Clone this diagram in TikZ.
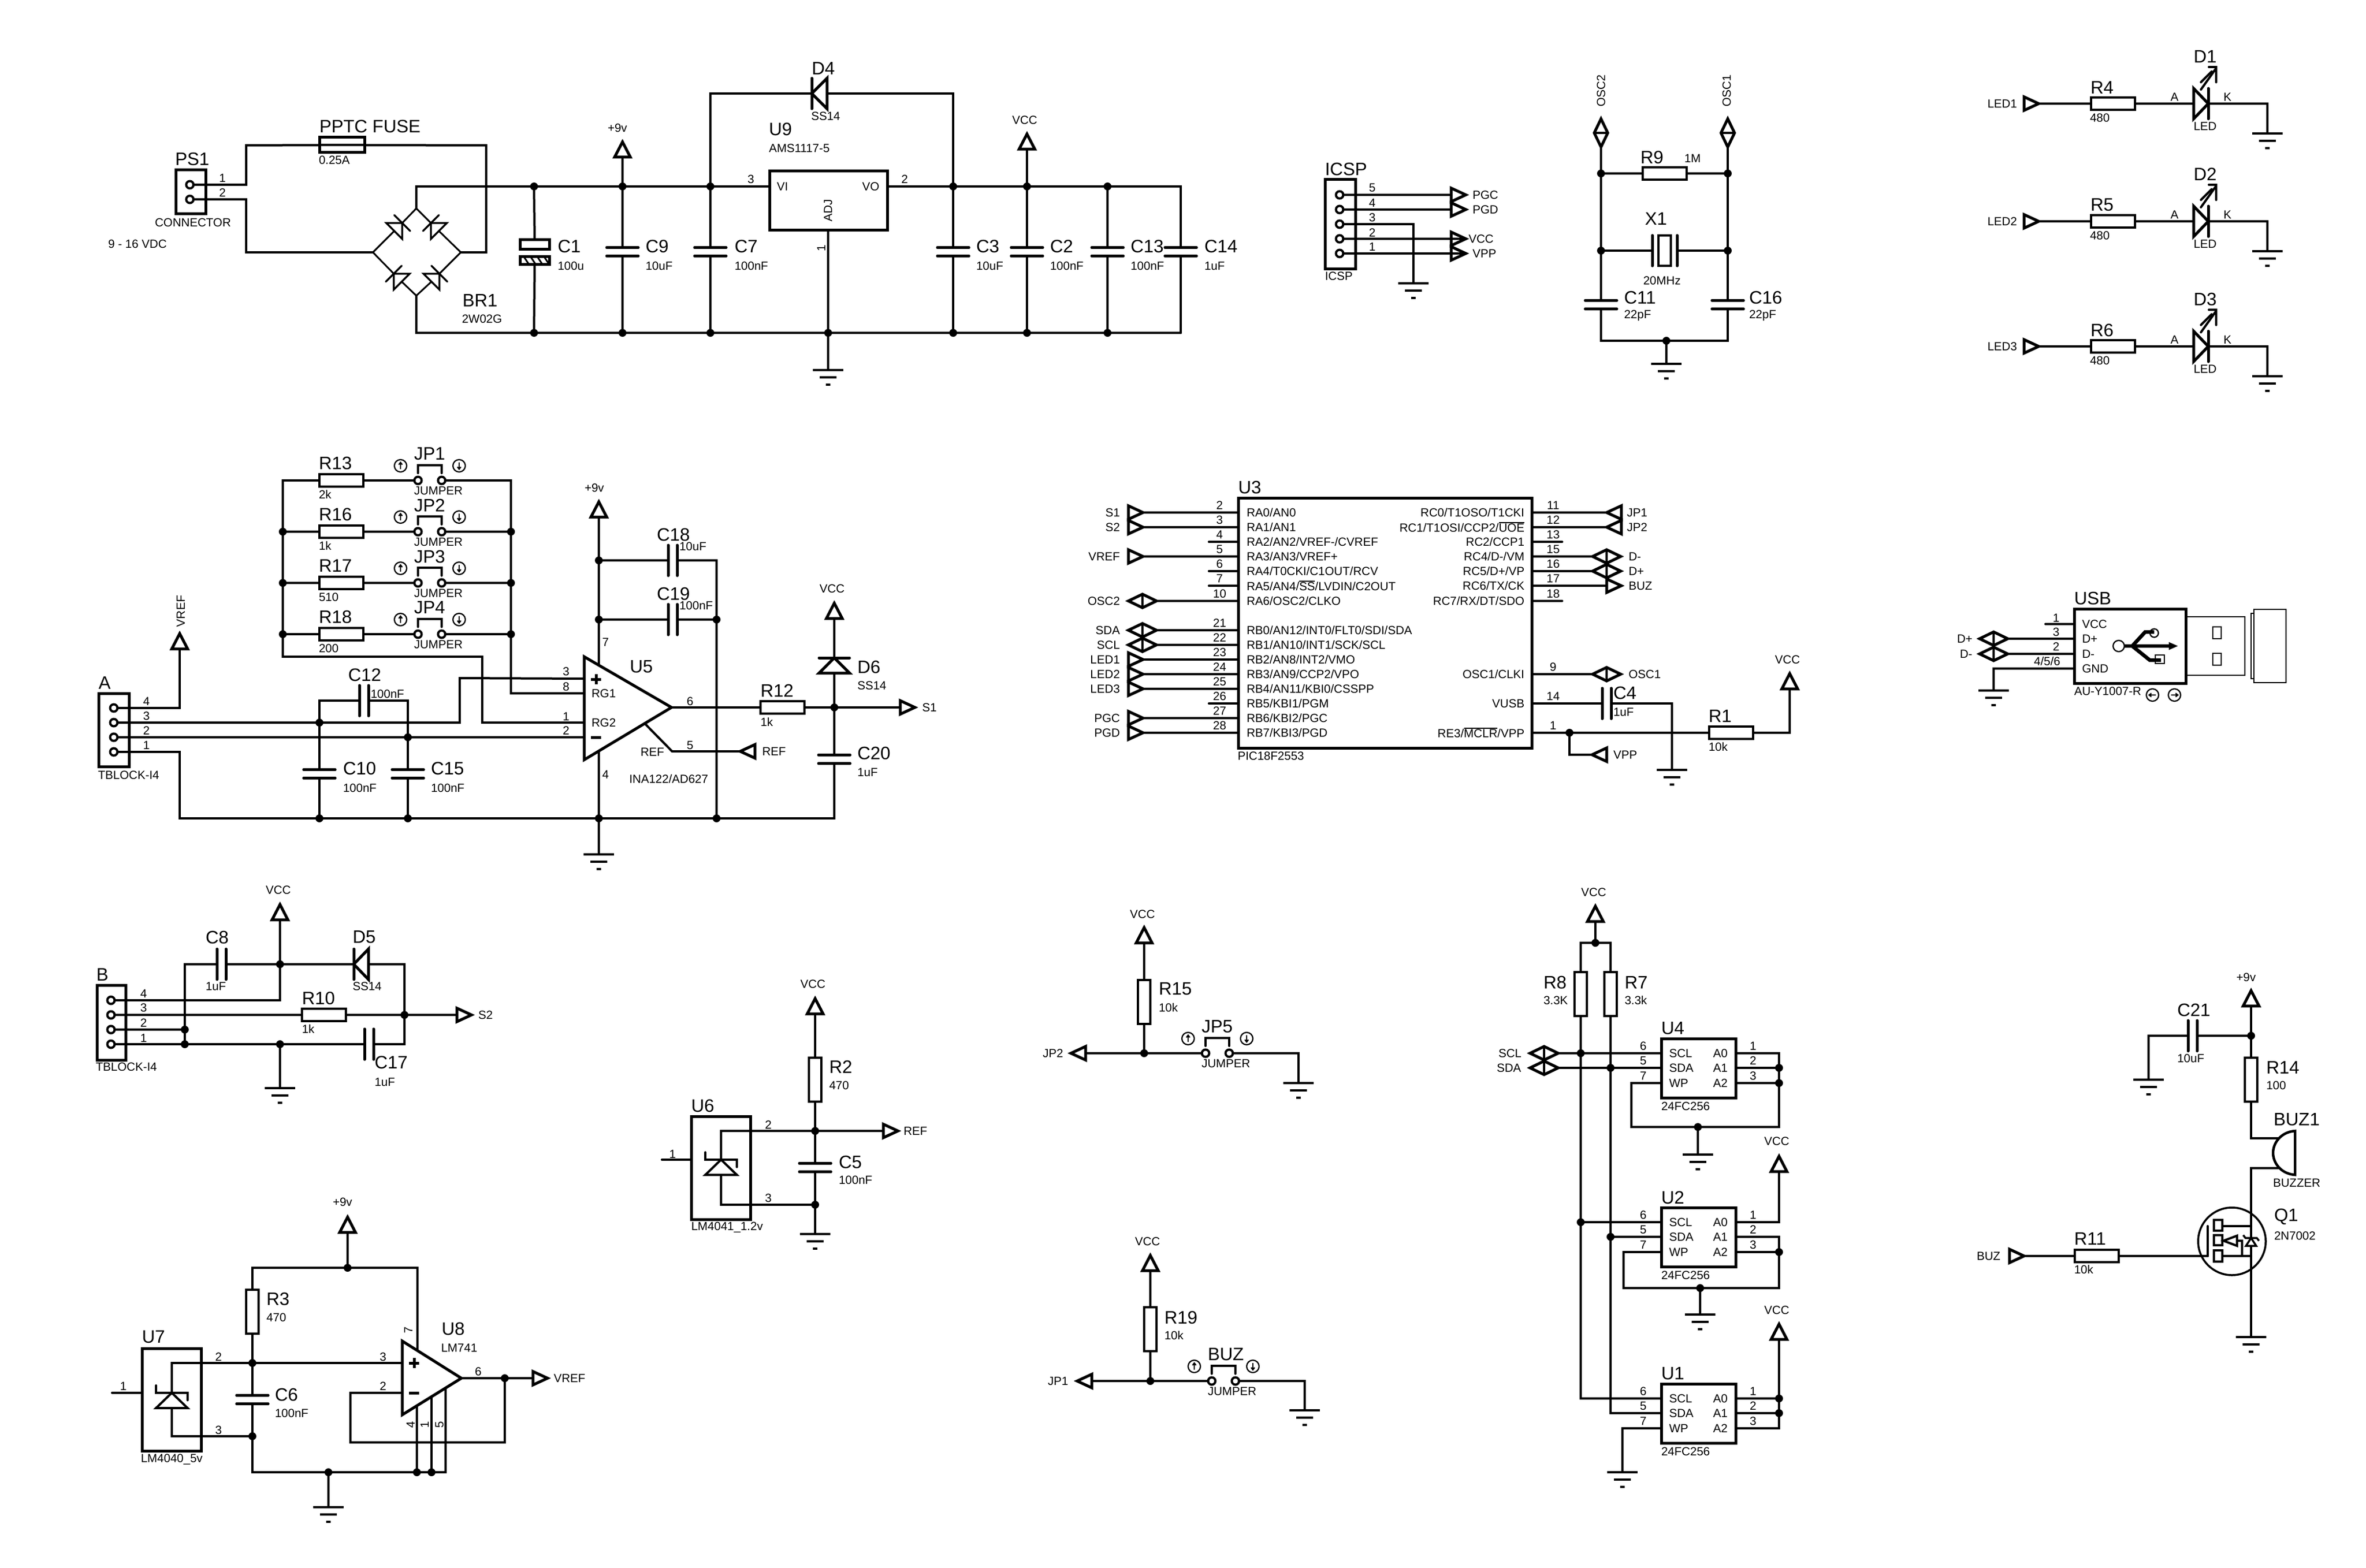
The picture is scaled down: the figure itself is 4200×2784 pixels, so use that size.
\documentclass[tikz,border=0pt]{standalone}
\usepackage{fontspec}
\setmainfont{Liberation Sans}
\newcounter{tn}
\tikzset{
  wire/.style={line width=0.8pt,line cap=round},
  thinwire/.style={line width=0.6pt,line cap=round},
  sym/.style={draw,fill=white,line width=1pt,line join=miter},
  thinl/.style={line width=0.45pt},
  plate/.style={line width=1pt,line cap=round},
  gbar/.style={line width=0.9pt},
  lab/.style={inner sep=0pt,outer sep=0pt},
  bigf/.style={lab,font=\fontsize{6.4}{7}\selectfont},
  smf/.style={lab,font=\fontsize{4.2}{5}\selectfont},
  resis/.style={rectangle,draw,fill=white,line width=0.9pt,inner sep=0pt,outer sep=0pt},
  capbox/.style={rectangle,inner sep=0pt,outer sep=0pt},
  ringpin/.style={circle,draw,fill=white,line width=0.8pt,minimum size=2.6pt,inner sep=0pt,outer sep=0pt},
  junction/.style={circle,fill=black,minimum size=2.8pt,inner sep=0pt,outer sep=0pt},
  chip/.style={rectangle,draw,fill=white,line width=1pt,inner sep=0pt,outer sep=0pt}
}
\newcommand\tBL[3]{\stepcounter{tn}\node[bigf,anchor=west] (t\number\value{tn}) at (#1,#2) {#3};}
\newcommand\tSL[3]{\stepcounter{tn}\node[smf,anchor=west] (t\number\value{tn}) at (#1,#2) {#3};}
\newcommand\tSR[3]{\stepcounter{tn}\node[smf,anchor=east] (t\number\value{tn}) at (#1,#2) {#3};}
\newcommand\tSC[3]{\stepcounter{tn}\node[smf] (t\number\value{tn}) at (#1,#2) {#3};}
\newcommand\tSV[3]{\stepcounter{tn}\node[smf,rotate=90] (t\number\value{tn}) at (#1,#2) {#3};}
\newcommand\ovl[1]{\setbox0\hbox{#1}\rlap{\raisebox{\dimexpr\ht0+0.25pt}{\rule{\wd0}{0.25pt}}}\box0}
\newcommand\mkRh[3]{\node[resis,minimum width=15.6pt,minimum height=4.4pt] (#1) at (#2,#3) {};}
\newcommand\mkRv[3]{\node[resis,minimum width=4.4pt,minimum height=15.6pt] (#1) at (#2,#3) {};}
\newcommand\mkCv[3]{\node[capbox,minimum width=11.2pt,minimum height=3pt] (#1) at (#2,#3) {};
  \draw[plate] (#1.north west) -- (#1.north east);\draw[plate] (#1.south west) -- (#1.south east);}
\newcommand\mkCh[3]{\node[capbox,minimum width=3.2pt,minimum height=10.8pt] (#1) at (#2,#3) {};
  \draw[plate] (#1.north west) -- (#1.south west);\draw[plate] (#1.north east) -- (#1.south east);}
\newcommand\mkPin[3]{\node[ringpin] (#1) at (#2,#3) {};}
\newcommand\mkDot[3]{\node[junction] (#1) at (#2,#3) {};}
\newcommand\mkChip[5]{\node[chip,minimum width={(#4-#2)*0.2pt},minimum height={(#5-#3)*0.2pt}] (#1) at ({(#2+#4)/2},{(#3+#5)/2}) {};}
\newcommand\mkPR[3]{\draw[sym] (#2-26,#3-12) -- (#2,#3) -- (#2-26,#3+12) -- cycle;\coordinate (#1-b) at (#2-26,#3);\coordinate (#1-t) at (#2,#3);}
\newcommand\mkPL[3]{\draw[sym] (#2+26,#3-12) -- (#2,#3) -- (#2+26,#3+12) -- cycle;\coordinate (#1-b) at (#2+26,#3);\coordinate (#1-t) at (#2,#3);}
\newcommand\mkDia[3]{\draw[sym] (#2-25,#3) -- (#2,#3-12) -- (#2+25,#3) -- (#2,#3+12) -- cycle;\draw[wire] (#2,#3-12) -- (#2,#3+12);
  \coordinate (#1-l) at (#2-25,#3);\coordinate (#1-r) at (#2+25,#3);}
\newcommand\mkDiaV[3]{\draw[sym] (#2,#3-25) -- (#2+12,#3) -- (#2,#3+25) -- (#2-12,#3) -- cycle;\draw[wire] (#2-12,#3) -- (#2+12,#3);
  \coordinate (#1-t) at (#2,#3-25);\coordinate (#1-b) at (#2,#3+25);}
\newcommand\mkPwr[3]{\draw[sym] (#2,#3) -- (#2-14,#3+27) -- (#2+14,#3+27) -- cycle;\coordinate (#1) at (#2,#3+27);}
\newcommand\mkGnd[3]{\coordinate (#1) at (#2,#3);\draw[gbar] (#2-27,#3) -- (#2+27,#3);\draw[gbar] (#2-15,#3+13) -- (#2+15,#3+13);\draw[gbar] (#2-4,#3+26) -- (#2+4,#3+26);}
% diode: name, tip x, tip y, screen angle, height, half width, line width
\newcommand\mkDio[7]{\begin{scope}[shift={(#2,#3)},rotate=#4]
  \draw[draw,fill=white,line width=#7] (0,0) -- (-#5,-#6) -- (-#5,#6) -- cycle;
  \draw[line width=#7,line cap=round] (0,-#6) -- (0,#6);
  \coordinate (#1-t) at (0,0);\coordinate (#1-b) at (-#5,0);\end{scope}}
\newcommand\mkCirc[3]{\begin{scope}[shift={(#1,#2)},rotate=#3]
  \draw[thinl] (0,0) circle [radius=2.2pt];\draw[thinl] (-6,0) -- (6,0);\draw[thinl] (2,-3) -- (6,0) -- (2,3);\end{scope}}
\newcommand\mkJmp[4]{\mkPin{#1-a}{#2}{#3}\mkPin{#1-b}{#2+42}{#3}
  \draw[wire] (#2,#3-13) -- (#2,#3-27) -- (#2+42,#3-27) -- (#2+42,#3-13);
  \mkCirc{#2-31}{#3-26}{90}\mkCirc{#2+73}{#3-26}{-90}
  \tBL{#2-7}{#3-47}{#4}\tSL{#2-7}{#3+18}{JUMPER}}
\newcommand\mkZen[2]{\draw[wire] (#1-28,#2-13) -- (#1-28,#2) -- (#1+28,#2) -- (#1+28,#2+13);
  \draw[wire,fill=white] (#1,#2) -- (#1-28,#2+27) -- (#1+28,#2+27) -- cycle;}
\newcommand\LedRow[4]{\mkPR{pl#2}{3619}{#1}\tSL{3528}{#1}{LED#2}
  \mkRh{#3}{3751}{#1}\tBL{3711}{#1-29}{#3}\tSL{3710}{#1+25}{480}
  \mkDio{#4}{3920}{#1}{0}{26}{27}{1pt}
  \tSC{3860}{#1-12}{A}\tSC{3954}{#1-12}{K}\tBL{3894}{#1-84}{#4}\tSL{3894}{#1+40}{LED}
  \draw[wire] (3907,#1-25) -- (3934,#1-63);\draw[wire] (3907,#1-38) -- (3926,#1-57);
  \draw[wire] (3921,#1-65) -- (3934,#1-65) -- (3934,#1-38);
  \mkGnd{gl#2}{4025}{#1+53}
  \draw[wire] (pl#2-t) -- (#3.west);\draw[wire] (#3.east) -- (#4-b);\draw[wire] (#4-t) -- (4025,#1) -- (gl#2);}
\newcommand\UPL[3]{\coordinate (U3p#1) at (2198,#2);\tSC{2165}{#2-13}{#1}\tSL{2213}{#2}{#3}}
\newcommand\UPR[3]{\coordinate (U3p#1) at (2719,#2);\tSC{2757}{#2-13}{#1}\tSR{2706}{#2}{#3}}
% EEPROM: name, top y, pins
\newcommand\mkEE[2]{\mkChip{#1}{2949}{#2}{3081}{#2+105}
  \tBL{2949}{#2-18}{#1}\tSL{2949}{#2+120}{24FC256}
  \tSL{2963}{#2+26}{SCL}\tSL{2963}{#2+52}{SDA}\tSL{2963}{#2+79}{WP}
  \tSL{3041}{#2+26}{A0}\tSL{3041}{#2+52}{A1}\tSL{3041}{#2+79}{A2}
  \tSC{2917}{#2+13}{6}\tSC{2917}{#2+39}{5}\tSC{2917}{#2+66}{7}
  \tSC{3112}{#2+13}{1}\tSC{3112}{#2+39}{2}\tSC{3112}{#2+66}{3}
  \coordinate (#1scl) at (2949,#2+26);\coordinate (#1sda) at (2949,#2+52);\coordinate (#1wp) at (2949,#2+79);
  \coordinate (#1a0) at (3081,#2+26);\coordinate (#1a1) at (3081,#2+52);\coordinate (#1a2) at (3081,#2+79);}
\begin{document}
\begin{tikzpicture}[x=0.2pt,y=-0.2pt]
\fill[white] (0,0) rectangle (4200,2784);
\useasboundingbox (0,0) rectangle (4200,2784);

%% ===== power supply =====
\mkChip{PS1}{312}{302}{365}{380}
\mkPin{PS1a}{337}{328}\mkPin{PS1b}{337}{354}
\tBL{311}{282}{PS1}\tSL{275}{395}{CONNECTOR}\tSR{296}{433}{9 - 16 VDC}
\tSC{395}{316}{1}\tSC{395}{342}{2}
\mkChip{FUSE}{567}{244}{647}{271}
\tBL{567}{224}{PPTC FUSE}\tSL{566}{284}{0.25A}
\coordinate (BRl) at (662,448);\coordinate (BRt) at (739,370);\coordinate (BRr) at (818,448);\coordinate (BRb) at (739,525);
\mkDio{dUL}{714}{396}{45}{20}{20}{0.65pt}
\mkDio{dUR}{765}{396}{135}{20}{20}{0.65pt}
\mkDio{dLL}{699}{486}{135}{20}{20}{0.65pt}
\mkDio{dLR}{780}{486}{45}{20}{20}{0.65pt}
\draw[thinwire] (BRl) -- (dUL-b);\draw[thinwire] (dUL-t) -- (BRt);
\draw[thinwire] (BRr) -- (dUR-b);\draw[thinwire] (dUR-t) -- (BRt);
\draw[thinwire] (BRb) -- (dLL-b);\draw[thinwire] (dLL-t) -- (BRl);
\draw[thinwire] (BRb) -- (dLR-b);\draw[thinwire] (dLR-t) -- (BRr);
\tBL{821}{533}{BR1}\tSL{820}{566}{2W02G}
\draw[wire] (PS1a.east) -- (437,328) -- (437,258) -- (FUSE.west) -- (FUSE.east) -- (863,258) -- (863,448) -- (BRr);
\draw[wire] (PS1b.east) -- (437,354) -- (437,448) -- (BRl);
\foreach \n/\x in {1/948,2/1105,3/1261,5/1692,6/1823,7/1966}{\mkDot{t\n}{\x}{331}\mkDot{b\n}{\x}{591}}
\mkDot{b4}{1470}{591}
\mkChip{U9}{1366}{304}{1575}{409}
\coordinate (U9vi) at (1366,331);\coordinate (U9vo) at (1575,331);\coordinate (U9adj) at (1470,409);
\draw[wire] (BRt) -- (739,331) -- (t1) -- (t2) -- (t3) -- (U9vi);
\draw[wire] (BRb) -- (739,591) -- (b1) -- (b2) -- (b3) -- (b4) -- (b5) -- (b6) -- (b7) -- (2096,591);
\mkCv{C9}{1105}{447}\mkCv{C7}{1261}{447}\mkCv{C3}{1692}{447}\mkCv{C2}{1823}{447}\mkCv{C13}{1966}{447}\mkCv{C14}{2096}{447}
\draw[wire] (U9vo) -- (t5) -- (t6) -- (t7) -- (2096,331) -- (C14.north);
\draw[wire] (C14.south) -- (2096,591);
\foreach \c/\n in {C9/2,C7/3,C3/5,C2/6,C13/7}{\draw[wire] (t\n) -- (\c.north);\draw[wire] (\c.south) -- (b\n);}
% C1
\node[chip,minimum width=10.4pt,minimum height=3.2pt] (C1a) at (949,434) {};
\node[chip,minimum width=10.4pt,minimum height=2.8pt] (C1b) at (949,462) {};
\foreach \x in {930,942,954,966}{\draw[line width=0.6pt] (\x,456) -- (\x+8,468);}
\draw[wire] (t1) -- (C1a.north);\draw[wire] (C1b.south) -- (b1);
\tBL{990}{437}{C1}\tSL{990}{472}{100u}
\tBL{1146}{437}{C9}\tSL{1146}{472}{10uF}
\tBL{1304}{437}{C7}\tSL{1304}{472}{100nF}
\tBL{1733}{437}{C3}\tSL{1733}{472}{10uF}
\tBL{1864}{437}{C2}\tSL{1864}{472}{100nF}
\tBL{2007}{437}{C13}\tSL{2007}{472}{100nF}
\tBL{2138}{437}{C14}\tSL{2138}{472}{1uF}
\mkPwr{p9a}{1105}{252}\draw[wire] (p9a) -- (t2);\tSC{1096}{227}{+9v}
\mkPwr{pva}{1823}{238}\draw[wire] (pva) -- (t6);\tSC{1819}{213}{VCC}
\mkDio{D4}{1441}{166}{180}{27}{27}{1pt}
\draw[wire] (t3) -- (1261,166) -- (D4-t);\draw[wire] (D4-b) -- (1692,166) -- (t5);
\tBL{1441}{121}{D4}\tSL{1440}{206}{SS14}
\tBL{1365}{229}{U9}\tSL{1365}{263}{AMS1117-5}
\tSL{1379}{331}{VI}\tSR{1561}{331}{VO}\tSV{1470}{374}{ADJ}
\tSC{1333}{318}{3}\tSC{1606}{318}{2}\tSV{1458}{441}{1}
\mkGnd{g9}{1470}{657}
\draw[wire] (U9adj) -- (b4);\draw[wire] (b4) -- (g9);

%% ===== ICSP =====
\mkChip{ICSP}{2352}{319}{2406}{477}
\mkPin{IC5}{2378}{346}\mkPin{IC4}{2378}{372}\mkPin{IC3}{2378}{398}\mkPin{IC2}{2378}{424}\mkPin{IC1}{2378}{450}
\mkPR{pgcp}{2602}{346}\mkPR{pgdp}{2602}{372}\mkPR{vccp}{2602}{424}\mkPR{vppp}{2602}{450}
\mkGnd{gicsp}{2509}{503}
\draw[wire] (IC5.east) -- (pgcp-b);\draw[wire] (IC4.east) -- (pgdp-b);
\draw[wire] (IC3.east) -- (2509,398) -- (gicsp);
\draw[wire] (IC2.east) -- (vccp-t);\draw[wire] (IC1.east) -- (vppp-t);
\tBL{2352}{300}{ICSP}\tSL{2352}{490}{ICSP}
\tSC{2436}{333}{5}\tSC{2436}{360}{4}\tSC{2436}{386}{3}\tSC{2436}{413}{2}\tSC{2436}{438}{1}
\tSL{2614}{346}{PGC}\tSL{2614}{372}{PGD}\tSL{2607}{424}{VCC}\tSL{2614}{450}{VPP}

%% ===== crystal =====
\mkDiaV{osc2t}{2842}{236}\mkDiaV{osc1t}{3067}{236}
\tSV{2842}{161}{OSC2}\tSV{3065}{161}{OSC1}
\mkDot{xa}{2842}{308}\mkDot{xb}{3067}{308}\mkDot{xc}{2842}{445}\mkDot{xd}{3067}{445}
\mkRh{R9}{2955}{308}
\tBL{2912}{279}{R9}\tSL{2990}{281}{1M}
\node[capbox,minimum width=8.8pt,minimum height=10.8pt] (X1) at (2955,445) {};
\draw[plate] (X1.north west) -- (X1.south west);\draw[plate] (X1.north east) -- (X1.south east);
\node[resis,line width=0.7pt,minimum width=4.4pt,minimum height=10.8pt] (X1r) at (2955,445) {};
\tBL{2920}{388}{X1}\tSL{2917}{498}{20MHz}
\mkCv{C11}{2842}{541}\mkCv{C16}{3067}{541}
\tBL{2883}{528}{C11}\tSL{2883}{560}{22pF}\tBL{3105}{528}{C16}\tSL{3105}{560}{22pF}
\mkDot{xg}{2958}{605}\mkGnd{gx}{2958}{646}
\draw[wire] (osc2t-b) -- (xa) -- (xc) -- (C11.north);
\draw[wire] (osc1t-b) -- (xb) -- (xd) -- (C16.north);
\draw[wire] (xa) -- (R9.west);\draw[wire] (R9.east) -- (xb);
\draw[wire] (xc) -- (X1.west);\draw[wire] (X1.east) -- (xd);
\draw[wire] (C11.south) -- (2842,605) -- (xg);\draw[wire] (C16.south) -- (3067,605) -- (xg);
\draw[wire] (xg) -- (gx);

%% ===== LEDs =====
\LedRow{184}{1}{R4}{D1}
\LedRow{393}{2}{R5}{D2}
\LedRow{615}{3}{R6}{D3}

%% ===== USB =====
\mkChip{USB}{3682}{1081}{3880}{1213}
\tBL{3682}{1062}{USB}\tSL{3682}{1227}{AU-Y1007-R}
\tSL{3696}{1108}{VCC}\tSL{3696}{1134}{D+}\tSL{3696}{1161}{D-}\tSL{3696}{1187}{GND}
\coordinate (USBv) at (3682,1108);\coordinate (USBp) at (3682,1134);\coordinate (USBm) at (3682,1161);\coordinate (USBg) at (3682,1187);
\coordinate (USBs) at (3631,1108);
\mkDia{dpu}{3539}{1134}\mkDia{dmu}{3539}{1161}
\mkGnd{gusb}{3539}{1226}
\draw[wire] (USBs) -- (USBv);\draw[wire] (dpu-r) -- (USBp);\draw[wire] (dmu-r) -- (USBm);
\draw[wire] (USBg) -- (3539,1187) -- (gusb);
\tSL{3474}{1134}{D+}\tSL{3479}{1161}{D-}
\tSC{3650}{1097}{1}\tSC{3650}{1122}{3}\tSC{3650}{1148}{2}\tSC{3634}{1174}{4/5/6}
\mkCirc{3821}{1234}{180}\mkCirc{3860}{1234}{0}
\draw[thinl] (3761,1147) circle [radius=2pt];
\draw[line width=1.3pt] (3770,1147) -- (3852,1147);
\fill (3850,1140) -- (3866,1147) -- (3850,1154) -- cycle;
\draw[thinl] (3824,1124) circle [radius=1.5pt];
\draw[thinl] (3826,1163) rectangle (3842,1178);
\draw[line width=1.3pt] (3785,1147) -- (3808,1122) -- (3824,1122);
\draw[line width=1.3pt] (3785,1147) -- (3816,1172) -- (3836,1172);
\draw[line width=0.5pt] (3881,1095) -- (3985,1095) -- (3985,1199) -- (3881,1199);
\draw[line width=0.5pt] (3928,1113) rectangle (3943,1134);
\draw[line width=0.5pt] (3928,1160) rectangle (3943,1181);
\draw[line width=0.5pt] (4001,1082) rectangle (4058,1212);
\draw[line width=0.5pt] (3996,1089) rectangle (4001,1205);

%% ===== input A =====
\mkChip{A}{175}{1231}{229}{1361}
\mkPin{Ap4}{202}{1257}\mkPin{Ap3}{202}{1283}\mkPin{Ap2}{202}{1309}\mkPin{Ap1}{202}{1335}
\tBL{175}{1212}{A}\tSL{174}{1376}{TBLOCK-I4}
\tSC{260}{1245}{4}\tSC{260}{1271}{3}\tSC{260}{1297}{2}\tSC{260}{1323}{1}
\mkPwr{vrefa}{319}{1125}\tSV{321}{1085}{VREF}
% gain network
\mkDot{L2}{502}{944}\mkDot{L3}{502}{1035}\mkDot{L4}{502}{1126}
\mkDot{Q2}{907}{944}\mkDot{Q3}{907}{1035}\mkDot{Q4}{907}{1126}
\mkRh{R13}{606}{853}\mkRh{R16}{606}{944}\mkRh{R17}{606}{1035}\mkRh{R18}{606}{1126}
\tBL{566}{822}{R13}\tSL{566}{878}{2k}\tBL{566}{913}{R16}\tSL{566}{969}{1k}
\tBL{566}{1004}{R17}\tSL{566}{1060}{510}\tBL{566}{1095}{R18}\tSL{566}{1151}{200}
\mkJmp{JP1}{742}{853}{JP1}\mkJmp{JP2}{742}{944}{JP2}\mkJmp{JP3}{742}{1035}{JP3}\mkJmp{JP4}{742}{1126}{JP4}
% U5
\draw[sym] (1037,1166) -- (1192,1256) -- (1037,1349) -- cycle;
\coordinate (U5o) at (1192,1256);\coordinate (U5p3) at (1037,1205);\coordinate (U5p8) at (1037,1231);
\coordinate (U5p1) at (1037,1283);\coordinate (U5p2) at (1037,1309);\coordinate (U5p7) at (1063,1181);
\coordinate (U5p4) at (1063,1334);\coordinate (U5r) at (1145,1285);
\draw[line width=1pt] (1049,1206) -- (1067,1206);\draw[line width=1pt] (1058,1197) -- (1058,1215);
\draw[line width=1pt] (1049,1309) -- (1067,1309);
\tSL{1050}{1231}{RG1}\tSL{1050}{1283}{RG2}\tSL{1137}{1335}{REF}
\tBL{1118}{1184}{U5}\tSL{1117}{1383}{INA122/AD627}
\tSC{1005}{1192}{3}\tSC{1005}{1219}{8}\tSC{1005}{1272}{1}\tSC{1005}{1297}{2}
\tSC{1075}{1140}{7}\tSC{1075}{1375}{4}\tSC{1225}{1245}{6}\tSC{1225}{1323}{5}
\draw[wire] (R13.west) -- (502,853) -- (L2) -- (L3) -- (L4) -- (502,1166) -- (856,1166) -- (856,1283) -- (U5p1);
\draw[wire] (JP1-b.east) -- (907,853) -- (Q2) -- (Q3) -- (Q4) -- (907,1231) -- (U5p8);
\draw[wire] (R13.east) -- (JP1-a.west);
\foreach \r/\j/\n in {R16/JP2/2,R17/JP3/3,R18/JP4/4}{\draw[wire] (L\n) -- (\r.west);\draw[wire] (\r.east) -- (\j-a.west);\draw[wire] (\j-b.east) -- (Q\n);}
% input caps
\mkDot{j3}{567}{1283}\mkDot{j2}{724}{1309}\mkDot{b10}{567}{1453}\mkDot{b15}{724}{1453}\mkDot{b63}{1063}{1453}\mkDot{b72}{1272}{1453}
\mkCv{C10}{567}{1374}\mkCv{C15}{724}{1374}\mkCh{C12}{646}{1244}
\tBL{618}{1198}{C12}\tSL{658}{1232}{100nF}\tBL{609}{1364}{C10}\tSL{609}{1399}{100nF}\tBL{765}{1364}{C15}\tSL{765}{1399}{100nF}
\mkCv{C20}{1481}{1348}
\draw[wire] (Ap4.east) -- (319,1257) -- (vrefa);
\draw[wire] (Ap3.east) -- (j3) -- (816,1283) -- (816,1204) -- (U5p3);
\draw[wire] (Ap2.east) -- (j2) -- (U5p2);
\draw[wire] (Ap1.east) -- (319,1335) -- (319,1453) -- (b10) -- (b15) -- (b63) -- (b72) -- (1481,1453) -- (C20.south);
\draw[wire] (j3) -- (567,1244) -- (C12.west);\draw[wire] (C12.east) -- (724,1244) -- (j2);
\draw[wire] (j3) -- (C10.north);\draw[wire] (C10.south) -- (b10);
\draw[wire] (j2) -- (C15.north);\draw[wire] (C15.south) -- (b15);
% U5 supply
\mkPwr{p9b}{1063}{891}\tSC{1055}{866}{+9v}
\mkDot{j95}{1063}{995}\mkDot{j100}{1063}{1100}\mkDot{j12}{1272}{1100}
\mkCh{C18}{1194}{995}\mkCh{C19}{1194}{1100}
\tBL{1166}{949}{C18}\tSL{1206}{970}{10uF}\tBL{1166}{1054}{C19}\tSL{1206}{1075}{100nF}
\mkGnd{gu5}{1063}{1517}
\draw[wire] (p9b) -- (j95) -- (j100) -- (U5p7);
\draw[wire] (U5p4) -- (b63);\draw[wire] (b63) -- (gu5);
\draw[wire] (j95) -- (C18.west);\draw[wire] (C18.east) -- (1272,995) -- (j12) -- (b72);
\draw[wire] (j100) -- (C19.west);\draw[wire] (C19.east) -- (j12);
% output
\mkRh{R12}{1389}{1256}\mkDot{s1j}{1481}{1256}\mkPR{s1p}{1624}{1256}\mkPL{refp}{1314}{1334}
\tBL{1350}{1226}{R12}\tSL{1350}{1282}{1k}\tSL{1637}{1256}{S1}\tSL{1353}{1334}{REF}
\draw[wire] (U5o) -- (R12.west);\draw[wire] (R12.east) -- (s1j) -- (s1p-b);
\draw[wire] (U5r) -- (1193,1334) -- (refp-t);
\mkPwr{pv6}{1481}{1071}\tSC{1477}{1045}{VCC}
\mkDio{D6}{1481}{1168}{90}{27}{27}{1pt}
\tBL{1522}{1184}{D6}\tSL{1522}{1217}{SS14}\tBL{1522}{1337}{C20}\tSL{1522}{1371}{1uF}
\draw[wire] (pv6) -- (D6-t);\draw[wire] (D6-b) -- (s1j) -- (C20.north);

%% ===== PIC =====
\mkChip{U3}{2198}{884}{2719}{1328}
\tBL{2198}{865}{U3}\tSL{2197}{1342}{PIC18F2553}
\UPL{2}{910}{RA0/AN0}\UPL{3}{936}{RA1/AN1}\UPL{4}{962}{RA2/AN2/VREF-/CVREF}\UPL{5}{988}{RA3/AN3/VREF+}
\UPL{6}{1014}{RA4/T0CKI/C1OUT/RCV}\UPL{7}{1040}{RA5/AN4/\ovl{SS}/LVDIN/C2OUT}\UPL{10}{1067}{RA6/OSC2/CLKO}
\UPL{21}{1119}{RB0/AN12/INT0/FLT0/SDI/SDA}\UPL{22}{1145}{RB1/AN10/INT1/SCK/SCL}\UPL{23}{1171}{RB2/AN8/INT2/VMO}
\UPL{24}{1197}{RB3/AN9/CCP2/VPO}\UPL{25}{1223}{RB4/AN11/KBI0/CSSPP}\UPL{26}{1249}{RB5/KBI1/PGM}
\UPL{27}{1275}{RB6/KBI2/PGC}\UPL{28}{1301}{RB7/KBI3/PGD}
\UPR{11}{910}{RC0/T1OSO/T1CKI}\UPR{12}{936}{RC1/T1OSI/CCP2/\ovl{UOE}}\UPR{13}{962}{RC2/CCP1}\UPR{15}{988}{RC4/D-/VM}
\UPR{16}{1014}{RC5/D+/VP}\UPR{17}{1040}{RC6/TX/CK}\UPR{18}{1067}{RC7/RX/DT/SDO}
\UPR{9}{1197}{OSC1/CLKI}\UPR{14}{1249}{VUSB}\UPR{1}{1301}{RE3/\ovl{MCLR}/VPP}
\foreach \n/\y/\t in {2/910/S1,3/936/S2,5/988/VREF,23/1171/LED1,24/1197/LED2,25/1223/LED3,27/1275/PGC,28/1301/PGD}{
  \mkPR{ul\n}{2029}{\y}\tSR{1988}{\y}{\t}\draw[wire] (ul\n-t) -- (U3p\n);}
\foreach \n/\y/\t in {10/1067/OSC2,21/1119/SDA,22/1145/SCL}{
  \mkDia{ud\n}{2028}{\y}\tSR{1988}{\y}{\t}\draw[wire] (ud\n-r) -- (U3p\n);}
\foreach \n/\y in {4/962,6/1014,7/1040,26/1249}{\coordinate (us\n) at (2146,\y);\draw[wire] (us\n) -- (U3p\n);}
\foreach \n/\y/\t in {11/910/JP1,12/936/JP2}{\mkPL{up\n}{2852}{\y}\tSL{2888}{\y}{\t}\draw[wire] (U3p\n) -- (up\n-t);}
\foreach \n/\y in {13/962,18/1067}{\coordinate (us\n) at (2773,\y);\draw[wire] (U3p\n) -- (us\n);}
\foreach \n/\y/\t in {15/988/D-,16/1014/D+,9/1197/OSC1}{\mkDia{ud\n}{2852}{\y}\tSL{2891}{\y}{\t}\draw[wire] (U3p\n) -- (ud\n-l);}
\mkPR{up17}{2878}{1040}\tSL{2891}{1040}{BUZ}\draw[wire] (U3p17) -- (up17-b);
\mkCh{C4}{2852}{1249}\tBL{2864}{1230}{C4}\tSL{2864}{1264}{1uF}
\mkGnd{gc4}{2968}{1367}
\draw[wire] (U3p14) -- (C4.west);\draw[wire] (C4.east) -- (2968,1249) -- (gc4);
\mkRh{R1}{3073}{1301}\tBL{3033}{1271}{R1}\tSL{3033}{1326}{10k}
\mkDot{jm}{2786}{1301}\mkPL{vpu}{2826}{1340}\tSL{2864}{1340}{VPP}
\mkPwr{pv1}{3177}{1196}\tSC{3173}{1171}{VCC}
\draw[wire] (U3p1) -- (jm) -- (R1.west);\draw[wire] (R1.east) -- (3177,1301) -- (pv1);
\draw[wire] (jm) -- (2786,1340) -- (vpu-t);

%% ===== input B =====
\mkChip{B}{172}{1749}{223}{1882}
\mkPin{Bp4}{197}{1776}\mkPin{Bp3}{197}{1802}\mkPin{Bp2}{197}{1828}\mkPin{Bp1}{197}{1854}
\tBL{171}{1730}{B}\tSL{170}{1894}{TBLOCK-I4}
\tSC{255}{1764}{4}\tSC{255}{1789}{3}\tSC{255}{1816}{2}\tSC{255}{1843}{1}
\mkDot{bj2}{328}{1828}\mkDot{bj1}{328}{1854}\mkDot{bjv}{497}{1712}\mkDot{bjg}{497}{1854}\mkDot{s2j}{718}{1802}
\mkCh{C8}{393}{1712}\mkCh{C17}{655}{1854}\mkRh{R10}{575}{1802}
\mkDio{D5}{628}{1712}{180}{26}{27}{1pt}
\mkPwr{pvb}{497}{1606}\tSC{494}{1580}{VCC}
\mkPR{s2p}{837}{1802}\tSL{849}{1802}{S2}
\mkGnd{gb}{497}{1932}
\draw[wire] (Bp4.east) -- (497,1776) -- (bjv);\draw[wire] (bjv) -- (pvb);
\draw[wire] (Bp3.east) -- (R10.west);\draw[wire] (R10.east) -- (s2j) -- (s2p-b);
\draw[wire] (Bp2.east) -- (bj2);\draw[wire] (Bp1.east) -- (bj1) -- (bjg) -- (C17.west);
\draw[wire] (bj1) -- (bj2) -- (328,1712) -- (C8.west);\draw[wire] (C8.east) -- (bjv);
\draw[wire] (bjv) -- (D5-t);\draw[wire] (D5-b) -- (718,1712) -- (s2j) -- (718,1854) -- (C17.east);
\draw[wire] (bjg) -- (gb);
\tBL{365}{1664}{C8}\tSL{365}{1751}{1uF}\tBL{626}{1664}{D5}\tSL{626}{1751}{SS14}
\tBL{536}{1772}{R10}\tSL{536}{1827}{1k}\tBL{665}{1886}{C17}\tSL{665}{1921}{1uF}

%% ===== U6 =====
\mkChip{U6}{1227}{1982}{1332}{2165}
\tBL{1227}{1963}{U6}\tSL{1227}{2179}{LM4041\_1.2v}
\mkRv{R2}{1447}{1917}\mkDot{u6a}{1447}{2008}\mkDot{u6b}{1447}{2139}\mkCv{C5}{1447}{2073}
\mkPwr{pv2}{1447}{1773}\tSC{1443}{1747}{VCC}
\mkPR{refo}{1594}{2008}\tSL{1604}{2008}{REF}
\mkGnd{gu6}{1447}{2191}
\mkZen{1280}{2059}
\coordinate (u6s) at (1175,2059);\coordinate (u6i) at (1227,2059);
\draw[wire] (u6s) -- (u6i);
\draw[wire] (pv2) -- (R2.north);\draw[wire] (R2.south) -- (u6a) -- (C5.north);\draw[wire] (C5.south) -- (u6b) -- (gu6);
\draw[wire] (u6a) -- (refo-b);
\draw[wire] (u6a) -- (1280,2008) -- (1280,2059);\draw[wire] (1280,2086) -- (1280,2139) -- (u6b);
\tSC{1364}{1997}{2}\tSC{1364}{2127}{3}\tSC{1194}{2049}{1}
\tBL{1472}{1894}{R2}\tSL{1472}{1927}{470}\tBL{1489}{2063}{C5}\tSL{1489}{2095}{100nF}

%% ===== U7 / U8 =====
\mkChip{U7}{252}{2394}{357}{2576}
\tBL{252}{2374}{U7}\tSL{250}{2591}{LM4040\_5v}
\mkZen{305}{2473}
\coordinate (u7s) at (199,2473);\coordinate (u7i) at (252,2473);
\draw[wire] (u7s) -- (u7i);
\mkDot{u7a}{448}{2420}\mkDot{u7b}{448}{2550}\mkDot{u8v}{617}{2251}\mkDot{u8g}{583}{2614}\mkDot{u8p4}{740}{2614}\mkDot{u8p1}{766}{2614}\mkDot{u8o}{896}{2447}
\mkRv{R3}{448}{2329}\mkCv{C6}{448}{2485}
\mkPwr{p9c}{617}{2161}\tSC{608}{2134}{+9v}
\draw[sym] (714,2381) -- (819,2447) -- (714,2512) -- cycle;
\coordinate (U8o) at (819,2447);\coordinate (U8p3) at (714,2420);\coordinate (U8p2) at (714,2473);\coordinate (U8p7) at (741,2398);
\coordinate (U8p4) at (740,2496);\coordinate (U8p1) at (766,2480);\coordinate (U8p5) at (791,2464);
\draw[line width=1pt] (726,2420) -- (744,2420);\draw[line width=1pt] (735,2411) -- (735,2429);\draw[line width=1pt] (726,2473) -- (744,2473);
\mkPR{vrefo}{972}{2447}\tSL{983}{2447}{VREF}
\mkGnd{gu8}{583}{2676}
\draw[wire] (p9c) -- (u8v);
\draw[wire] (R3.north) -- (448,2251) -- (u8v) -- (741,2251) -- (U8p7);
\draw[wire] (R3.south) -- (u7a) -- (C6.north);\draw[wire] (C6.south) -- (u7b) -- (448,2614) -- (u8g) -- (u8p4) -- (u8p1) -- (791,2614) -- (U8p5);
\draw[wire] (U8p4) -- (u8p4);\draw[wire] (U8p1) -- (u8p1);\draw[wire] (u8g) -- (gu8);
\draw[wire] (u7a) -- (305,2420) -- (305,2473);\draw[wire] (305,2500) -- (305,2550) -- (u7b);
\draw[wire] (u7a) -- (U8p3);
\draw[wire] (U8p2) -- (622,2473) -- (622,2561) -- (896,2561) -- (u8o);
\draw[wire] (U8o) -- (u8o) -- (vrefo-b);
\tSC{219}{2461}{1}\tSC{388}{2409}{2}\tSC{388}{2539}{3}
\tBL{473}{2306}{R3}\tSL{473}{2339}{470}\tBL{488}{2476}{C6}\tSL{488}{2509}{100nF}
\tSC{680}{2409}{3}\tSC{680}{2461}{2}\tSC{849}{2435}{6}\tSV{725}{2362}{7}\tSV{729}{2530}{4}\tSV{754}{2530}{1}\tSV{780}{2530}{5}
\tBL{784}{2359}{U8}\tSL{783}{2393}{LM741}

%% ===== R15 / JP5 =====
\mkPwr{pv15}{2031}{1647}\tSC{2028}{1623}{VCC}
\mkRv{R15}{2031}{1779}\mkDot{j15}{2031}{1870}\mkPL{jp2o}{1901}{1870}\tSL{1851}{1870}{JP2}
\mkJmp{JP5}{2140}{1870}{JP5}\mkGnd{g15}{2305}{1923}
\draw[wire] (pv15) -- (R15.north);\draw[wire] (R15.south) -- (j15);
\draw[wire] (jp2o-b) -- (j15) -- (JP5-a.west);\draw[wire] (JP5-b.east) -- (2305,1870) -- (g15);
\tBL{2057}{1756}{R15}\tSL{2057}{1789}{10k}

%% ===== R19 / BUZ =====
\mkPwr{pv19}{2042}{2229}\tSC{2037}{2204}{VCC}
\mkRv{R19}{2042}{2360}\mkDot{j19}{2042}{2452}\mkPL{jp1o}{1912}{2452}\tSL{1860}{2452}{JP1}
\mkJmp{BUZ}{2151}{2452}{BUZ}\mkGnd{g19}{2316}{2504}
\draw[wire] (pv19) -- (R19.north);\draw[wire] (R19.south) -- (j19);
\draw[wire] (jp1o-b) -- (j19) -- (BUZ-a.west);\draw[wire] (BUZ-b.east) -- (2316,2452) -- (g19);
\tBL{2067}{2339}{R19}\tSL{2067}{2371}{10k}

%% ===== EEPROMs =====
\mkPwr{pvee}{2832}{1609}\tSC{2829}{1584}{VCC}
\mkDot{jee}{2832}{1674}\mkRv{R8}{2806}{1765}\mkRv{R7}{2859}{1765}
\tBL{2740}{1744}{R8}\tSL{2740}{1776}{3.3K}\tBL{2884}{1744}{R7}\tSL{2884}{1776}{3.3k}
\mkDia{scld}{2741}{1870}\mkDia{sdad}{2741}{1896}\tSL{2660}{1870}{SCL}\tSL{2657}{1896}{SDA}
\mkEE{U4}{1844}\mkEE{U2}{2144}\mkEE{U1}{2457}
\mkDot{sc4}{2806}{1870}\mkDot{sd4}{2859}{1896}\mkDot{sc2}{2806}{2170}\mkDot{sd2}{2859}{2196}
\draw[wire] (pvee) -- (jee);\draw[wire] (R8.north) -- (2806,1674) -- (jee) -- (2859,1674) -- (R7.north);
\draw[wire] (R8.south) -- (sc4) -- (sc2) -- (2806,2483) -- (U1scl);
\draw[wire] (R7.south) -- (sd4) -- (sd2) -- (2859,2509) -- (U1sda);
\draw[wire] (scld-r) -- (sc4) -- (U4scl);\draw[wire] (sdad-r) -- (sd4) -- (U4sda);
\draw[wire] (sc2) -- (U2scl);\draw[wire] (sd2) -- (U2sda);
% U4
\mkDot{a41}{3158}{1896}\mkDot{a42}{3158}{1923}\mkDot{g4j}{3014}{2001}\mkGnd{g4}{3014}{2050}
\draw[wire] (U4a0) -- (3158,1870) -- (a41) -- (a42) -- (3158,2001) -- (g4j) -- (2896,2001) -- (2896,1923) -- (U4wp);
\draw[wire] (U4a1) -- (a41);\draw[wire] (U4a2) -- (a42);\draw[wire] (g4j) -- (g4);
% U2
\mkPwr{pvu2}{3158}{2053}\tSC{3154}{2026}{VCC}
\mkDot{a22}{3158}{2223}\mkDot{g2j}{3018}{2287}\mkGnd{g2}{3018}{2334}
\draw[wire] (U2a0) -- (3158,2170) -- (pvu2);
\draw[wire] (U2a1) -- (3158,2196) -- (a22) -- (3158,2287) -- (g2j) -- (2882,2287) -- (2882,2223) -- (U2wp);
\draw[wire] (U2a2) -- (a22);\draw[wire] (g2j) -- (g2);
% U1
\mkPwr{pvu1}{3158}{2351}\tSC{3154}{2326}{VCC}
\mkDot{a10}{3158}{2483}\mkDot{a11}{3158}{2509}\mkGnd{g1u}{2880}{2614}
\draw[wire] (pvu1) -- (a10) -- (a11) -- (3158,2536) -- (U1a2);
\draw[wire] (U1a0) -- (a10);\draw[wire] (U1a1) -- (a11);
\draw[wire] (U1wp) -- (2880,2536) -- (g1u);

%% ===== buzzer stage =====
\mkPwr{p9d}{3996}{1759}\tSC{3987}{1735}{+9v}
\mkDot{jq}{3996}{1839}\mkRv{R14}{3996}{1917}\mkCh{C21}{3892}{1839}\mkGnd{gc21}{3814}{1917}
\tBL{4023}{1895}{R14}\tSL{4023}{1927}{100}\tBL{3865}{1793}{C21}\tSL{3865}{1879}{10uF}
\draw[wire] (p9d) -- (jq);\draw[wire] (jq) -- (R14.north);\draw[wire] (jq) -- (C21.east);\draw[wire] (C21.west) -- (3814,1839) -- (gc21);
\draw[line width=0.9pt,fill=white] (4074,2008) .. controls (4048,2010) and (4035,2030) .. (4035,2047) .. controls (4035,2064) and (4048,2084) .. (4074,2086) -- cycle;
\coordinate (bz1) at (4044,2021);\coordinate (bz2) at (4044,2074);
\tBL{4036}{1988}{BUZ1}\tSL{4035}{2100}{BUZZER}
\node[circle,draw,line width=0.7pt,minimum size=24pt,inner sep=0pt,outer sep=0pt] (Q1) at (3962,2204) {};
\mkGnd{gq}{3996}{2374}
\draw[wire] (R14.south) -- (3996,2021) -- (bz1);
\draw[wire] (bz2) -- (3996,2074) -- (3996,2198);\draw[wire] (3996,2212) -- (gq);
\draw[line width=0.8pt] (3930,2166) rectangle (3945,2185);
\draw[line width=0.8pt] (3930,2193) rectangle (3945,2211);
\draw[line width=0.8pt] (3930,2220) rectangle (3945,2240);
\draw[wire] (3945,2177) -- (3996,2177);\draw[wire] (3945,2230) -- (3996,2230);
\draw[wire] (3919,2177) -- (3919,2230);
\draw[line width=0.8pt,fill=white] (3947,2203) -- (3971,2194) -- (3971,2212) -- cycle;
\draw[wire] (3971,2203) -- (3980,2203) -- (3980,2230);
\draw[line width=0.7pt,fill=white] (3996,2198) -- (3987,2212) -- (4005,2212) -- cycle;
\draw[line width=0.7pt] (3982,2193) -- (3986,2198) -- (4006,2198) -- (4010,2203);
\mkRh{R11}{3722}{2230}\mkPR{buzi}{3593}{2230}\coordinate (Q1g) at (3919,2230);
\draw[wire] (buzi-t) -- (R11.west);\draw[wire] (R11.east) -- (Q1g);
\tSL{3509}{2230}{BUZ}\tBL{3682}{2199}{R11}\tSL{3682}{2254}{10k}
\tBL{4037}{2160}{Q1}\tSL{4037}{2194}{2N7002}
\end{tikzpicture}
\end{document}
